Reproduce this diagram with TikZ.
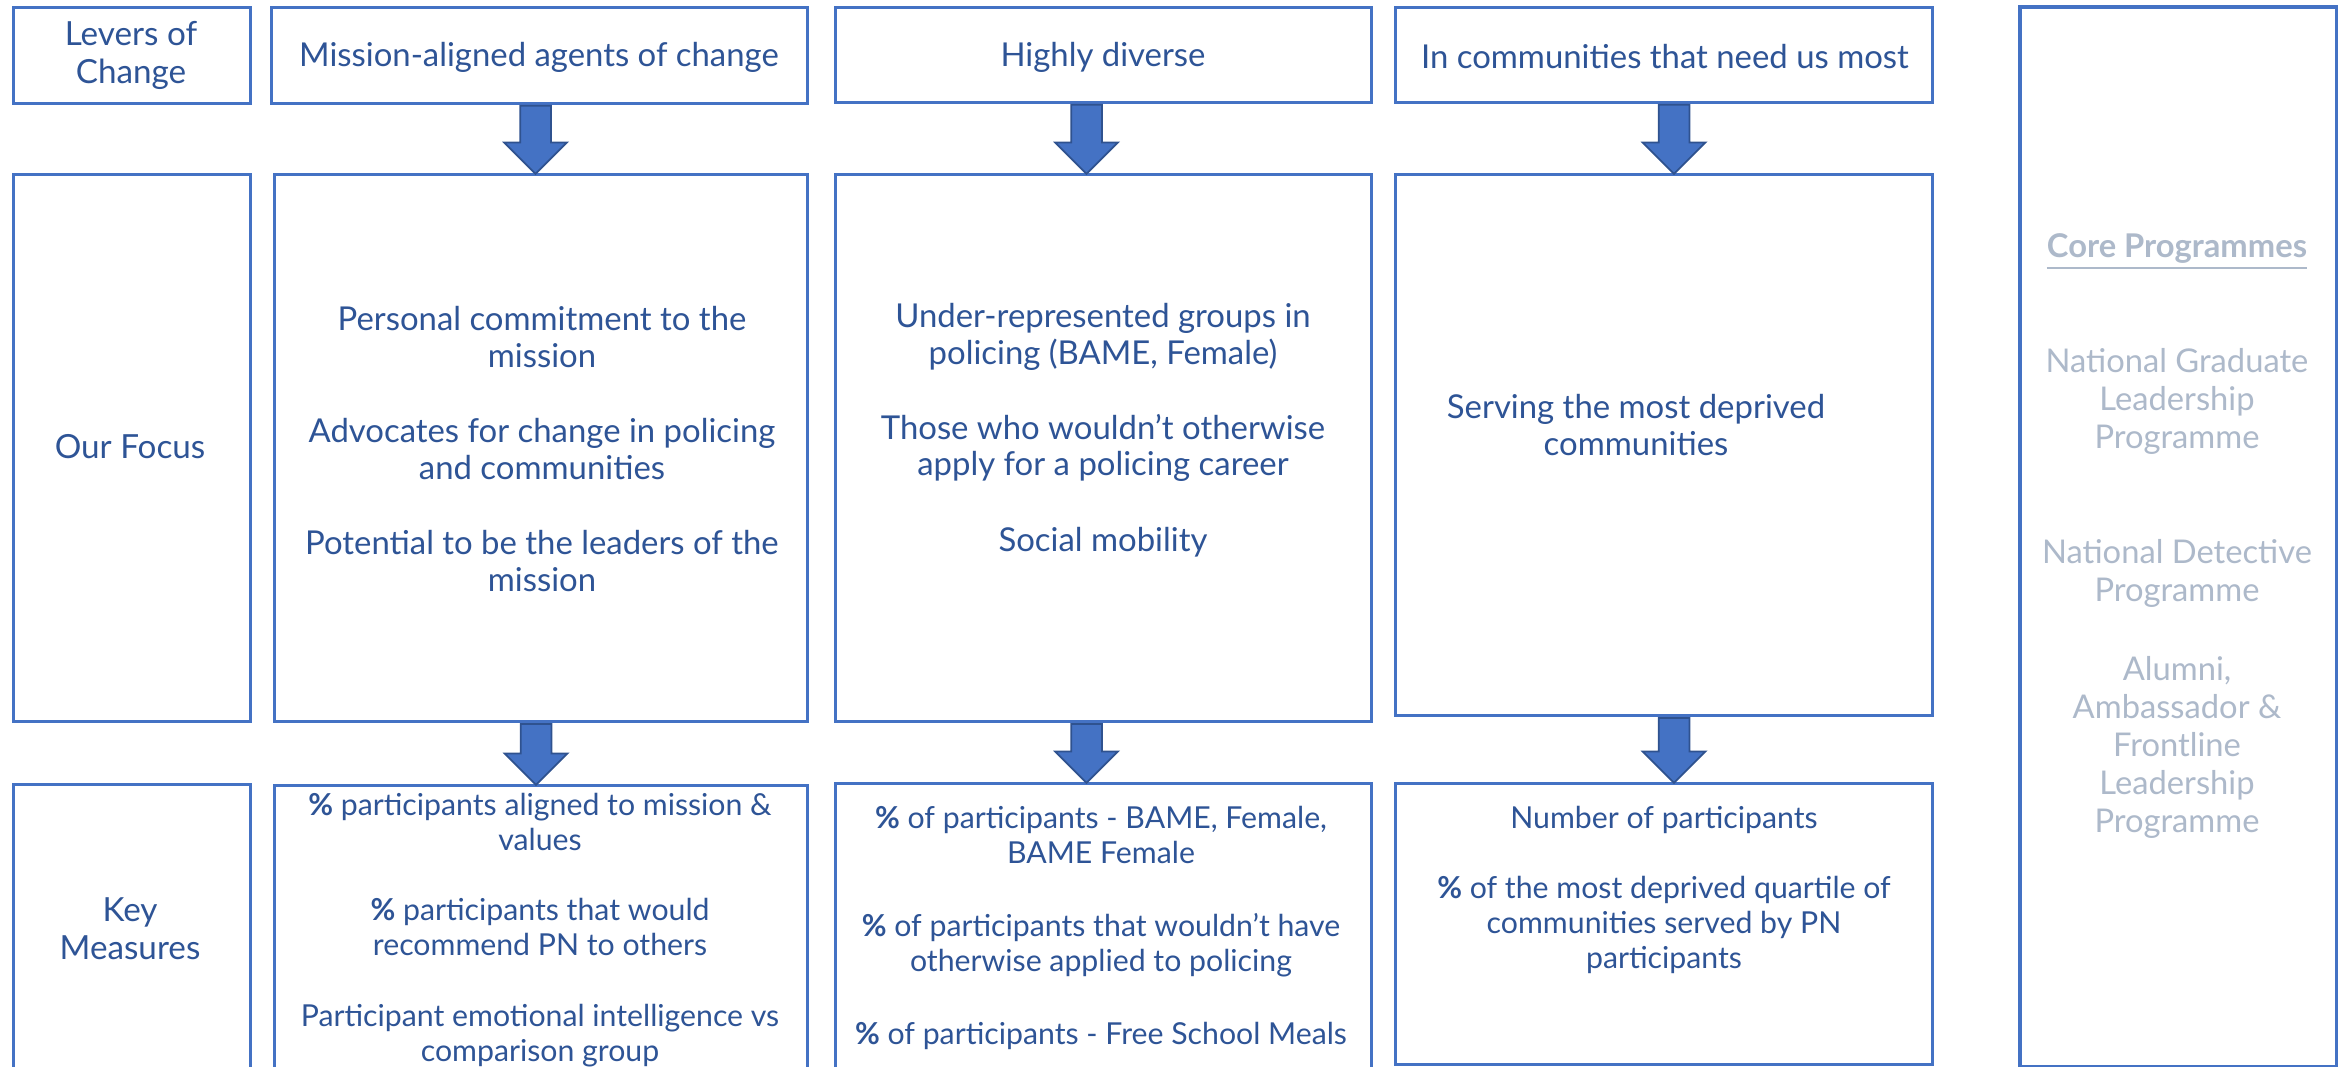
\documentclass[tikz,border=0pt]{standalone}
\usepackage{fontspec}
\setmainfont{Lato}
\usetikzlibrary{shapes.arrows,calc,positioning}

\definecolor{azulcaja}{RGB}{68,114,196}
\definecolor{azultexto}{RGB}{46,84,150}
\definecolor{bordeflecha}{RGB}{47,82,143}
\definecolor{grisazul}{RGB}{173,185,202}

\tikzset{
  caja/.style={draw=azulcaja, line width=0.8pt, fill=white, inner sep=0pt, anchor=north west},
  flecha/.style={single arrow, draw=bordeflecha, fill=azulcaja, line width=0.5pt,
    inner xsep=0pt, inner ysep=0.145cm, single arrow head extend=0.16cm,
    single arrow head indent=0pt, rotate=-90, anchor=tail},
  texto/.style={text=azultexto, align=center, inner sep=0pt,
    font=\fontsize{9.35}{10.4}\selectfont},
  etiqueta/.style={texto, font=\fontsize{9.45}{10.8}\selectfont},
  medida/.style={text=azultexto, align=center, inner sep=0pt,
    font=\fontsize{8.6}{10}\selectfont},
  programa/.style={text=grisazul, align=center, inner sep=0pt,
    font=\fontsize{9.3}{10.8}\selectfont}
}

\begin{document}
\begin{tikzpicture}[x=0.01cm, y=-0.01cm]  % coordenadas en pixeles
  \useasboundingbox (0,0) rectangle (2338,1067);
  \clip (0,0) rectangle (2338,1067);

  % Fila superior: palancas de cambio
  \node[caja, minimum width=2.37cm, minimum height=0.96cm] (lev0) at (12,6) {};
  \node[caja, minimum width=5.36cm, minimum height=0.96cm] (lev1) at (270,6) {};
  \node[caja, minimum width=5.36cm, minimum height=0.95cm] (lev2) at (834,6) {};
  \node[caja, minimum width=5.37cm, minimum height=0.95cm] (lev3) at (1394,6) {};

  % Fila central: nuestro foco
  \node[caja, minimum width=2.37cm, minimum height=5.47cm] (foc0) at (12,173) {};
  \node[caja, minimum width=5.33cm, minimum height=5.47cm] (foc1) at (273,173) {};
  \node[caja, minimum width=5.36cm, minimum height=5.47cm] (foc2) at (834,173) {};
  \node[caja, minimum width=5.37cm, minimum height=5.41cm] (foc3) at (1394,173) {};

  % Fila inferior: medidas clave
  \node[caja, minimum width=2.37cm, minimum height=2.92cm] (mea0) at (12,783) {};
  \node[caja, minimum width=5.33cm, minimum height=2.91cm] (mea1) at (273,784) {};
  \node[caja, minimum width=5.36cm, minimum height=2.93cm] (mea2) at (834,782) {};
  \node[caja, minimum width=5.37cm, minimum height=2.81cm] (mea3) at (1394,782) {};

  % Panel derecho
  \node[caja, line width=1pt, minimum width=3.17cm, minimum height=10.59cm] (core) at (2018,5) {};

  % Flechas entre filas
  \foreach \a/\b/\dx in {lev1/foc1/-4, lev2/foc2/-17, lev3/foc3/10,
                         foc1/mea1/-5, foc2/mea2/-17, foc3/mea3/10} {
    \path let \p1=([xshift=\dx*0.1mm]\a.south), \p2=([xshift=\dx*0.1mm]\b.north) in
      node[flecha, minimum height={\y1-\y2}] (f-\a) at (\p1) {};
  }

  % Textos de la fila superior
  \node[etiqueta] (t-lev0) at (131,55) {Levers of\\Change};
  \node[texto] (t-lev1) at (539,57) {Mission-aligned agents of change};
  \node[texto] (t-lev2) at (1103,57) {Highly diverse};
  \node[texto] (t-lev3) at (1665,57) {In communities that need us most};

  % Textos del foco
  \node[etiqueta] (t-foc0) at (130,447) {Our Focus};
  \node[texto] (t-foc1) at (542,449) {Personal commitment to the\\mission\\[11pt]
    Advocates for change in policing\\and communities\\[11pt]
    Potential to be the leaders of the\\mission};
  \node[texto] (t-foc2) at (1103,430) {Under-represented groups in\\policing (BAME, Female)\\[11pt]
    Those who wouldn’t otherwise\\apply for a policing career\\[11pt]
    Social mobility};
  \node[texto] (t-foc3) at (1636,425) {Serving the most deprived\\communities};

  % Textos de las medidas
  \node[etiqueta] (t-mea0) at (130,929) {Key\\Measures};
  \node[medida] (t-mea1) at (540,930) {\textbf{\%} participants aligned to mission \&\\values\\[10pt]
    \textbf{\%} participants that would\\recommend PN to others\\[10pt]
    Participant emotional intelligence vs\\comparison group};
  \node[medida] (t-mea2) at (1101,928) {\textbf{\%} of participants - BAME, Female,\\BAME Female\\[10.8pt]
    \textbf{\%} of participants that wouldn’t have\\otherwise applied to policing\\[10.8pt]
    \textbf{\%} of participants - Free School Meals};
  \node[medida] (t-mea3) at (1664,890) {Number of participants\\[10pt]
    \textbf{\%} of the most deprived quartile of\\communities served by PN\\participants};

  % Programas principales
  \node[programa] (t-core) at (2177,536) {\underline{\textbf{Core Programmes}}\\[22pt]
    National Graduate\\Leadership\\Programme\\[22pt]
    National Detective\\Programme\\[11.7pt]
    Alumni,\\Ambassador \&\\Frontline\\Leadership\\Programme};
\end{tikzpicture}
\end{document}
